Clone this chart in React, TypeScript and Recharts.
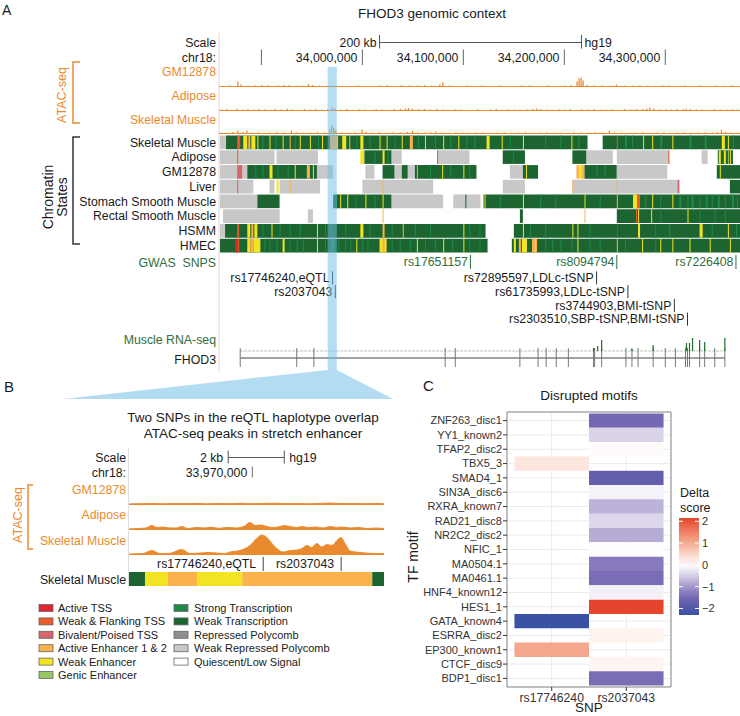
import React from "react";
import {
  ComposedChart,
  Bar,
  Area,
  Scatter,
  XAxis,
  YAxis,
  ReferenceArea,
  ReferenceLine,
  CartesianGrid,
} from "recharts";

const FONT = "'Liberation Sans', Arial, Helvetica, sans-serif";
const ORANGE = "#ea8a2e";
const GREEN_TXT = "#2f6e3a";
const INK = "#1a1a1a";

// chromHMM 15-state palette
const stateColors = {
  TssA: "#e0252c",
  TssFlnk: "#ea5a2d",
  TssBiv: "#d8646c",
  Enh: "#fbb24c",
  EnhWk: "#f2e423",
  EnhG: "#98c665",
  Tx: "#1f8a48",
  TxWk: "#1c6430",
  ReprPC: "#8e8e8e",
  ReprPCWk: "#c8c8c8",
  Quies: "#ffffff",
};
const stateNames = {
  TssA: "Active TSS",
  TssFlnk: "Weak & Flanking TSS",
  TssBiv: "Bivalent/Poised TSS",
  Enh: "Active Enhancer 1 & 2",
  EnhWk: "Weak Enhancer",
  EnhG: "Genic Enhancer",
  Tx: "Strong Transcription",
  TxWk: "Weak Transcription",
  ReprPC: "Repressed Polycomb",
  ReprPCWk: "Weak Repressed Polycomb",
  Quies: "Quiescent/Low Signal",
};
const legendCol1 = ["TssA", "TssFlnk", "TssBiv", "Enh", "EnhWk", "EnhG"];
const legendCol2 = ["Tx", "TxWk", "ReprPC", "ReprPCWk", "Quies"];

// ---------- panel A : chr18 window, kb ----------
const windowA = [33858, 34374];
const windowB = [33965.6, 33974.7];

const chrTicksA = [
  { pos: 33900, y: 1.5, label: "" },
  { pos: 34000, y: 1.5, label: "34,000,000" },
  { pos: 34100, y: 1.5, label: "34,100,000" },
  { pos: 34200, y: 1.5, label: "34,200,000" },
  { pos: 34300, y: 1.5, label: "34,300,000" },
];
const scaleBarA = [
  { pos: 34017, y: 0.5, label: "200 kb", side: "left" },
  { pos: 34217, y: 0.5, label: "hg19", side: "right" },
];

// ATAC-seq signal, [kb, height]
const atacGmA = [
  [33863, 0.6], [33869, 1], [33877, 5], [33880, 2], [33887, 0.8], [33894, 1], [33901, 1.5], [33907, 1.2],
  [33910, 0.8], [33917, 1], [33923, 1.6], [33928, 1.2], [33935, 0.8], [33941, 1], [33947, 2.5], [33951, 1.5],
  [33958, 1], [33964, 0.8], [33971, 1], [33980, 0.8], [33988, 0.6], [33996, 1], [34009, 0.8], [34017, 1],
  [34025, 1.2], [34032, 0.8], [34039, 1.2], [34047, 1], [34055, 1], [34062, 1.3], [34069, 1], [34077, 2],
  [34080, 4], [34087, 1], [34095, 0.8], [34104, 1], [34111, 0.6], [34119, 1], [34126, 0.8], [34136, 1],
  [34144, 0.8], [34151, 0.6], [34158, 1], [34166, 1], [34176, 0.8], [34184, 1], [34192, 0.6], [34201, 1],
  [34207, 1.2], [34213, 5], [34215, 8], [34217, 9], [34219, 6], [34223, 1.5], [34230, 1], [34238, 1],
  [34247, 0.8], [34252, 2], [34260, 1], [34268, 0.8], [34275, 1], [34283, 1], [34290, 0.8], [34298, 1],
  [34304, 1], [34312, 0.8], [34320, 1], [34327, 0.8], [34334, 1], [34342, 0.8], [34350, 1], [34358, 0.8],
  [34366, 1], [34372, 0.8],
];
const atacAdiposeA = [
  [33861, 1], [33866, 1.5], [33871, 0.8], [33876, 1.8], [33882, 1], [33887, 1.4], [33893, 0.8], [33898, 1.6],
  [33904, 1.2], [33909, 0.8], [33914, 1.5], [33920, 1], [33926, 1.8], [33931, 1], [33937, 0.8], [33943, 1.4],
  [33949, 1], [33954, 1.6], [33960, 1], [33966, 1.2], [33970, 3], [33973, 2], [33979, 1], [33985, 1.5],
  [33991, 0.8], [33997, 1.2], [34003, 1], [34008, 0.6], [34014, 1.4], [34020, 1], [34026, 0.8], [34032, 1.4],
  [34038, 1.6], [34043, 2], [34046, 2.5], [34050, 1.8], [34056, 1.2], [34062, 1.5], [34068, 1], [34074, 1.4],
  [34080, 1], [34086, 0.8], [34092, 1.2], [34098, 1], [34104, 0.6], [34109, 0.8], [34115, 1.2], [34121, 0.6],
  [34127, 1], [34133, 1.4], [34139, 0.8], [34145, 1.2], [34151, 1], [34157, 0.8], [34163, 1.2], [34169, 1.5],
  [34173, 2], [34177, 1.5], [34183, 1], [34189, 0.8], [34195, 1.2], [34201, 1], [34206, 1.4], [34212, 0.8],
  [34218, 1.2], [34224, 1], [34230, 1.5], [34236, 0.8], [34242, 1], [34248, 1.2], [34254, 0.8], [34260, 1.4],
  [34266, 1], [34272, 1.2], [34278, 1.5], [34282, 2], [34285, 3], [34289, 2], [34295, 1], [34301, 1.4],
  [34306, 1], [34312, 1.2], [34318, 1.5], [34321, 2], [34325, 1.4], [34331, 1], [34337, 1.2], [34343, 0.8],
  [34349, 1.4], [34355, 1], [34361, 0.8], [34367, 1.2], [34372, 1],
];
const atacMuscleA = [
  [33861, 1], [33867, 0.8], [33872, 1.5], [33877, 3], [33882, 1.5], [33886, 3], [33891, 1], [33897, 1.2],
  [33904, 0.8], [33909, 1], [33916, 1.4], [33923, 1], [33930, 3], [33935, 1.2], [33942, 0.8], [33949, 1],
  [33956, 1.4], [33963, 1], [33968, 4], [33970, 8], [33972, 6], [33974, 3], [33980, 1], [33987, 0.8],
  [33993, 1.2], [34000, 4], [34004, 1.5], [34010, 1], [34017, 1.4], [34024, 0.8], [34031, 1.2], [34038, 1],
  [34045, 1.5], [34050, 3], [34055, 1.2], [34062, 1], [34068, 1.2], [34073, 2], [34079, 1], [34086, 0.8],
  [34093, 1.2], [34100, 1], [34106, 0.8], [34113, 1.2], [34120, 1], [34127, 0.8], [34134, 1], [34141, 1.2],
  [34148, 0.8], [34155, 1], [34162, 1.2], [34169, 0.8], [34176, 1], [34183, 1.2], [34190, 0.8], [34197, 1],
  [34204, 0.8], [34210, 1.2], [34217, 1], [34224, 0.8], [34231, 1.2], [34238, 1], [34245, 3], [34250, 1.2],
  [34257, 1], [34264, 0.8], [34271, 1], [34278, 1.2], [34285, 0.8], [34292, 1], [34299, 1.2], [34305, 0.8],
  [34312, 1], [34319, 1.2], [34326, 0.8], [34333, 1], [34340, 1.2], [34347, 1], [34352, 1.5], [34356, 4],
  [34360, 1.5], [34365, 1], [34371, 0.8],
];

// chromatin state segments, [start kb, end kb, state]
const skeletalMuscleStates = [
  [33859, 33865, "ReprPCWk"], [33865, 34223, "TxWk"], [34238, 34374, "TxWk"],
  [33876, 33879, "TssFlnk"], [33882, 33886, "EnhWk"], [33887, 33889, "Enh"], [33890, 33894, "EnhWk"],
  [33896, 33897, "EnhWk"], [33901, 33902, "Tx"], [33908, 33909, "EnhWk"], [33914, 33915, "Tx"],
  [33921, 33922, "EnhWk"], [33928, 33929, "Enh"], [33933, 33934, "Tx"], [33938, 33939, "EnhWk"],
  [33948, 33949, "EnhWk"], [33956, 33957, "Tx"], [33960, 33961, "EnhWk"], [33968, 33976, "Enh"],
  [33980, 33984, "EnhWk"], [33987, 33988, "Enh"], [33994, 33995, "Tx"], [33998, 34001, "EnhWk"],
  [34007, 34008, "Tx"], [34017, 34018, "EnhWk"], [34024, 34025, "EnhWk"], [34032, 34033, "Tx"],
  [34039, 34040, "EnhWk"], [34047, 34050, "Enh"], [34055, 34056, "Tx"], [34062, 34063, "EnhWk"],
  [34072, 34073, "Tx"], [34080, 34081, "EnhWk"], [34087, 34088, "Tx"], [34095, 34096, "EnhWk"],
  [34103, 34104, "Tx"], [34111, 34112, "Tx"], [34123, 34126, "EnhWk"], [34138, 34139, "EnhWk"],
  [34146, 34147, "Tx"], [34159, 34160, "EnhWk"], [34181, 34182, "Tx"], [34196, 34197, "Tx"],
  [34207, 34208, "EnhWk"], [34214, 34215, "Tx"], [34252, 34253, "TssFlnk"], [34260, 34262, "Tx"],
  [34267, 34268, "Tx"], [34278, 34279, "EnhWk"], [34287, 34288, "EnhWk"], [34295, 34297, "Tx"],
  [34307, 34308, "EnhWk"], [34324, 34326, "Tx"], [34339, 34341, "Tx"], [34356, 34359, "EnhWk"],
  [34362, 34363, "EnhWk"], [34367, 34368, "Tx"],
];
const adiposeStates = [
  [33859, 33913, "ReprPCWk"], [33915, 33956, "ReprPCWk"], [33876, 33877, "TssFlnk"],
  [33998, 34002, "EnhWk"], [34002, 34029, "TxWk"], [34012, 34013, "Tx"], [34020, 34022, "EnhWk"],
  [34025, 34026, "Tx"], [34029, 34039, "ReprPCWk"], [34074, 34106, "ReprPCWk"], [34074, 34075, "TssFlnk"],
  [34139, 34161, "TxWk"], [34149, 34150, "Tx"], [34208, 34222, "TxWk"], [34222, 34248, "ReprPCWk"],
  [34252, 34304, "ReprPCWk"], [34303, 34304, "TssFlnk"], [34336, 34342, "ReprPCWk"], [34352, 34367, "TxWk"],
  [34353, 34355, "EnhWk"], [34358, 34360, "EnhWk"], [34362, 34363, "EnhG"], [34364, 34365, "EnhWk"],
];
const gm12878States = [
  [33859, 33886, "ReprPCWk"], [33876, 33881, "TssBiv"], [33886, 33955, "TxWk"], [33894, 33895, "Tx"],
  [33901, 33902, "Tx"], [33908, 33911, "EnhWk"], [33916, 33917, "Tx"], [33926, 33927, "Tx"],
  [33933, 33934, "EnhWk"], [33945, 33948, "Enh"], [33951, 33952, "EnhWk"], [33955, 33971, "ReprPCWk"],
  [34003, 34012, "ReprPCWk"], [34020, 34032, "TxWk"], [34032, 34039, "ReprPCWk"], [34039, 34045, "TxWk"],
  [34045, 34052, "ReprPCWk"], [34052, 34113, "TxWk"], [34054, 34055, "Enh"], [34067, 34068, "Tx"],
  [34079, 34080, "EnhWk"], [34087, 34088, "Tx"], [34100, 34101, "EnhWk"], [34106, 34107, "Tx"],
  [34146, 34159, "ReprPCWk"], [34159, 34174, "TxWk"], [34162, 34163, "EnhWk"], [34212, 34215, "Enh"],
  [34215, 34217, "EnhWk"], [34217, 34220, "Enh"], [34220, 34252, "TxWk"], [34232, 34233, "Tx"],
  [34240, 34241, "Tx"], [34252, 34302, "ReprPCWk"], [34351, 34374, "TxWk"], [34354, 34355, "EnhWk"],
];
const liverStates = [
  [33859, 33892, "ReprPCWk"], [33876, 33877, "TssBiv"], [33908, 33913, "ReprPCWk"], [33915, 33917, "EnhWk"],
  [33918, 33958, "ReprPCWk"], [33928, 33929, "Enh"], [34000, 34070, "ReprPCWk"], [34020, 34021, "Enh"],
  [34139, 34161, "ReprPCWk"], [34208, 34312, "ReprPCWk"], [34208, 34209, "Enh"], [34252, 34253, "Enh"],
  [34312, 34314, "TssBiv"], [34364, 34374, "TxWk"],
];
const stomachSmoothMuscleStates = [
  [33859, 33896, "ReprPCWk"], [33896, 33918, "TxWk"], [33971, 34029, "TxWk"], [33974, 33975, "Tx"],
  [33978, 33979, "EnhWk"], [33985, 33986, "EnhWk"], [33993, 33994, "Tx"], [34003, 34004, "EnhWk"],
  [34012, 34013, "Tx"], [34020, 34021, "EnhWk"], [34029, 34080, "ReprPCWk"], [34090, 34117, "ReprPCWk"],
  [34102, 34103, "TxWk"], [34120, 34374, "TxWk"], [34121, 34122, "EnhWk"], [34136, 34137, "Tx"],
  [34159, 34160, "EnhWk"], [34176, 34177, "Tx"], [34191, 34192, "Tx"], [34220, 34221, "EnhWk"],
  [34235, 34236, "Tx"], [34252, 34253, "Enh"], [34268, 34272, "EnhWk"], [34272, 34275, "TssFlnk"],
  [34280, 34281, "Tx"], [34287, 34288, "EnhWk"], [34295, 34296, "Tx"], [34307, 34308, "EnhWk"],
  [34314, 34316, "Tx"], [34322, 34323, "Tx"], [34326, 34328, "Tx"], [34334, 34335, "Tx"],
  [34340, 34342, "Tx"], [34346, 34347, "Tx"], [34352, 34354, "Tx"], [34359, 34360, "Tx"],
  [34366, 34368, "Tx"], [34371, 34372, "Tx"],
];
const rectalSmoothMuscleStates = [
  [33862, 33918, "ReprPCWk"], [33946, 33951, "ReprPCWk"], [34020, 34021, "Enh"], [34156, 34159, "TxWk"],
  [34220, 34221, "Enh"], [34252, 34374, "TxWk"], [34271, 34272, "TssFlnk"], [34273, 34274, "EnhWk"],
  [34286, 34287, "EnhWk"], [34295, 34296, "Tx"], [34322, 34323, "EnhWk"], [34334, 34335, "Tx"],
  [34349, 34350, "Tx"], [34359, 34360, "Tx"],
];
const hsmmStates = [
  [33859, 33864, "ReprPCWk"], [33864, 34122, "TxWk"], [33876, 33878, "TssFlnk"], [33886, 33889, "EnhWk"],
  [33890, 33892, "Enh"], [33893, 33896, "EnhWk"], [33901, 33902, "Tx"], [33910, 33911, "EnhWk"],
  [33918, 33919, "Tx"], [33928, 33929, "Tx"], [33938, 33939, "Tx"], [33955, 33956, "EnhWk"],
  [33963, 33964, "Tx"], [33969, 33970, "Tx"], [33983, 33984, "Tx"], [33998, 34001, "EnhWk"],
  [34007, 34008, "Tx"], [34020, 34022, "Enh"], [34029, 34030, "Tx"], [34040, 34041, "Enh"],
  [34052, 34053, "Tx"], [34067, 34068, "Tx"], [34100, 34101, "EnhWk"], [34106, 34107, "Tx"],
  [34116, 34117, "Tx"], [34150, 34374, "TxWk"], [34159, 34160, "EnhWk"], [34166, 34167, "Tx"],
  [34181, 34182, "Tx"], [34208, 34209, "EnhWk"], [34213, 34214, "EnhWk"], [34225, 34226, "Tx"],
  [34252, 34253, "Tx"], [34273, 34275, "EnhWk"], [34290, 34291, "Tx"], [34304, 34305, "Tx"],
  [34334, 34337, "EnhWk"], [34346, 34347, "Tx"], [34362, 34363, "EnhWk"], [34370, 34371, "Tx"],
];
const hmecStates = [
  [33859, 34124, "TxWk"], [33874, 33877, "TssA"], [33877, 33878, "TssFlnk"], [33886, 33889, "EnhWk"],
  [33889, 33892, "Enh"], [33892, 33899, "EnhWk"], [33903, 33904, "Tx"], [33908, 33909, "Tx"],
  [33915, 33916, "Tx"], [33921, 33923, "EnhWk"], [33928, 33929, "Tx"], [33935, 33936, "Tx"],
  [33941, 33942, "Tx"], [33955, 33956, "EnhWk"], [33963, 33964, "Tx"], [33969, 33972, "Tx"],
  [33976, 33977, "Tx"], [33983, 33984, "Tx"], [33988, 33989, "Tx"], [33994, 33995, "EnhWk"],
  [34000, 34001, "Tx"], [34005, 34006, "Tx"], [34017, 34024, "EnhWk"], [34020, 34022, "Enh"],
  [34029, 34030, "Tx"], [34037, 34038, "Tx"], [34047, 34048, "Tx"], [34054, 34055, "EnhWk"],
  [34062, 34063, "Tx"], [34072, 34073, "Tx"], [34080, 34081, "EnhWk"], [34089, 34090, "Tx"],
  [34100, 34101, "EnhWk"], [34106, 34107, "Tx"], [34116, 34117, "Tx"], [34148, 34374, "TxWk"],
  [34150, 34152, "EnhWk"], [34155, 34157, "Enh"], [34158, 34163, "EnhWk"], [34168, 34173, "Enh"],
  [34171, 34172, "EnhWk"], [34181, 34182, "Tx"], [34188, 34189, "Tx"], [34196, 34197, "Tx"],
  [34207, 34208, "Tx"], [34213, 34214, "EnhWk"], [34225, 34226, "Tx"], [34235, 34236, "Tx"],
  [34252, 34253, "Enh"], [34260, 34261, "Tx"], [34277, 34278, "EnhWk"], [34290, 34291, "Tx"],
  [34295, 34296, "EnhWk"], [34307, 34308, "EnhWk"], [34324, 34325, "EnhWk"], [34344, 34345, "EnhWk"],
  [34364, 34365, "EnhWk"],
];
const chromatinRowNames = [
  "Skeletal Muscle", "Adipose", "GM12878", "Liver",
  "Stomach Smooth Muscle", "Rectal Smooth Muscle", "HSMM", "HMEC",
];
const chromatinRows = [
  skeletalMuscleStates, adiposeStates, gm12878States, liverStates,
  stomachSmoothMuscleStates, rectalSmoothMuscleStates, hsmmStates, hmecStates,
];

const gwasSnps = [
  { pos: 34107, y: 0.5, label: "rs17651157" },
  { pos: 34252, y: 0.5, label: "rs8094794" },
  { pos: 34370, y: 0.5, label: "rs7226408" },
];
const haplotypeSnps = [
  { pos: 33970.4, y: 0.5, label: "rs17746240,eQTL" },
  { pos: 34232, y: 0.5, label: "rs72895597,LDLc-tSNP" },
  { pos: 33973.2, y: 1.5, label: "rs2037043" },
  { pos: 34263, y: 1.5, label: "rs61735993,LDLc-tSNP" },
  { pos: 34309, y: 2.5, label: "rs3744903,BMI-tSNP" },
  { pos: 34322, y: 3.5, label: "rs2303510,SBP-tSNP,BMI-tSNP" },
];

const fhod3Span = [33879, 34359];
const fhod3Exons = [
  33879, 33935, 33952, 34082, 34092, 34156, 34174, 34182, 34192, 34204, 34229, 34230, 34237,
  34261, 34267, 34273, 34288, 34300, 34310, 34320, 34322, 34324, 34334, 34339, 34349, 34359,
];
const muscleRnaSeq = [
  [34229, 3], [34233, 5], [34237, 11], [34267, 2], [34288, 6], [34321, 8], [34324, 8],
  [34327, 13], [34334, 11], [34339, 9], [34359, 13],
];

// ---------- panel B : zoom on the two SNPs ----------
const chrTicksB = [{ pos: 33970, y: 1.5, label: "33,970,000" }];
const scaleBarB = [
  { pos: 33969.14, y: 0.5, label: "2 kb", side: "left" },
  { pos: 33971.14, y: 0.5, label: "hg19", side: "right" },
];
const atacGmB = [
  [33965.6, 0.6], [33966.0, 0.8], [33966.4, 1], [33966.8, 0.7], [33967.2, 1], [33967.6, 0.8],
  [33968.0, 1.1], [33968.4, 0.7], [33968.8, 1], [33969.2, 0.8], [33969.6, 1.2], [33970.0, 0.8],
  [33970.4, 1], [33970.8, 1.3], [33971.2, 0.8], [33971.6, 1], [33972.0, 0.7], [33972.4, 1.1],
  [33972.8, 1.4], [33973.2, 0.9], [33973.6, 1], [33974.0, 0.8], [33974.4, 1], [33974.7, 0.7],
];
const atacAdiposeB = [
  [33965.6, 0.6], [33965.9, 1], [33966.2, 1.5], [33966.41, 4], [33966.6, 2], [33966.8, 2.5],
  [33967.06, 1.5], [33967.3, 1.5], [33967.48, 3], [33967.7, 1], [33968.0, 2], [33968.3, 1.5],
  [33968.5, 2.2], [33968.8, 1.2], [33969.1, 2], [33969.4, 1.5], [33969.7, 3], [33969.92, 7],
  [33970.1, 4], [33970.3, 4.5], [33970.52, 3], [33970.75, 2], [33971.0, 3], [33971.11, 4],
  [33971.35, 3], [33971.6, 2], [33971.77, 3], [33972.0, 2], [33972.3, 2.5], [33972.5, 1.5],
  [33972.8, 3], [33973.0, 2], [33973.2, 2.5], [33973.5, 1.5], [33973.8, 2], [33974.1, 1],
  [33974.4, 1.5], [33974.7, 1],
];
const atacMuscleB = [
  [33965.6, 0.5], [33965.9, 0.8], [33966.1, 1], [33966.41, 4], [33966.71, 1], [33967.06, 1.2],
  [33967.48, 5], [33967.78, 1], [33968.14, 1.5], [33968.45, 2], [33968.73, 1.5], [33969.0, 1],
  [33969.21, 2.5], [33969.56, 4], [33969.92, 9], [33970.16, 16], [33970.34, 19.5], [33970.52, 17],
  [33970.7, 11], [33970.87, 6], [33971.11, 2.5], [33971.35, 4], [33971.59, 4.5], [33971.77, 6],
  [33971.95, 9], [33972.12, 7], [33972.3, 11], [33972.48, 7.5], [33972.66, 10], [33972.84, 9],
  [33973.02, 14], [33973.16, 17], [33973.31, 11], [33973.49, 3.5], [33973.85, 2], [33974.21, 1.2],
  [33974.56, 1], [33974.7, 0.8],
];
const skeletalMuscleStatesB = [
  [33965.6, 33966.17, "TxWk"], [33966.17, 33966.99, "EnhWk"], [33966.99, 33968.03, "Enh"],
  [33968.03, 33969.64, "EnhWk"], [33969.64, 33974.28, "Enh"], [33974.28, 33974.7, "TxWk"],
];
const snpsB = [
  { pos: 33970.39, y: 0.5, label: "rs17746240,eQTL" },
  { pos: 33973.17, y: 0.5, label: "rs2037043" },
];

// ---------- panel C : disrupted motifs ----------
const snpNames = ["rs17746240", "rs2037043"];
const motifs = [
  "ZNF263_disc1", "YY1_known2", "TFAP2_disc2", "TBX5_3", "SMAD4_1", "SIN3A_disc6", "RXRA_known7",
  "RAD21_disc8", "NR2C2_disc2", "NFIC_1", "MA0504.1", "MA0461.1", "HNF4_known12", "HES1_1",
  "GATA_known4", "ESRRA_disc2", "EP300_known1", "CTCF_disc9", "BDP1_disc1",
];
const deltaRs17746240 = [
  null, null, null, 0.3, null, null, null, null, null, null, null, null, null, null, -2.3, null, 1.05, null, null,
];
const deltaRs2037043 = [
  -1.5, -0.45, 0.05, null, -1.75, -0.12, -0.75, -0.4, -0.8, 0.02, -1.3, -1.45, -0.15, 2.15, null, 0.15, null, 0.12, -1.45,
];
const deltaLegendTicks = [2, 1, 0, -1, -2];

const gradientStops = [
  [-2.3, [58, 82, 163]], [-2, [79, 85, 168]], [-1.5, [118, 103, 179]], [-1, [163, 150, 204]],
  [-0.5, [214, 205, 230]], [0, [255, 255, 255]], [0.5, [252, 214, 200]], [1, [246, 171, 146]],
  [1.5, [240, 129, 101]], [2.15, [230, 69, 45]],
];
function deltaColor(v) {
  if (v <= gradientStops[0][0]) return `rgb(${gradientStops[0][1].join(",")})`;
  for (let i = 1; i < gradientStops.length; i++) {
    const [v1, c1] = gradientStops[i];
    const [v0, c0] = gradientStops[i - 1];
    if (v <= v1) {
      const t = (v - v0) / (v1 - v0);
      const c = c0.map((a, k) => Math.round(a + (c1[k] - a) * t));
      return `rgb(${c.join(",")})`;
    }
  }
  return `rgb(${gradientStops[gradientStops.length - 1][1].join(",")})`;
}

const heatCells = motifs
  .flatMap((m, i) => [
    { col: 1, row: i + 1, motif: m, value: deltaRs17746240[i] },
    { col: 2, row: i + 1, motif: m, value: deltaRs2037043[i] },
  ])
  .filter((c) => c.value !== null);
const deltaValues = heatCells.map((c) => c.value);
const deltaMin = Math.min(...deltaValues);
const deltaMax = Math.max(...deltaValues);

const toPoints = (arr) => arr.map(([pos, h]) => ({ pos, h, y: h }));
const Blank = () => <g />;

// every track gets an invisible scatter on its domain corners so both axes resolve
function Track({ left, top, width, height, xDomain, yDomain, reversed = false, data = undefined, children }) {
  const corners = [
    { pos: xDomain[0], y: yDomain[0] },
    { pos: xDomain[1], y: yDomain[1] },
  ];
  return (
    <div style={{ position: "absolute", left, top, width, height }}>
      <ComposedChart width={width} height={height} data={data} margin={{ top: 0, right: 0, bottom: 0, left: 0 }}>
        <XAxis type="number" dataKey="pos" domain={xDomain} hide />
        <YAxis type="number" dataKey="y" domain={yDomain} reversed={reversed} hide />
        <Scatter data={corners} shape={Blank} isAnimationActive={false} />
        {children}
      </ComposedChart>
    </div>
  );
}

// vertical tick with a label beside it
const markShape = ({ line, text, gap, up, down, size = 12.3 }) => (props) => {
  const { cx, cy, payload } = props;
  const right = payload.side === "right";
  return (
    <g>
      <line x1={cx} x2={cx} y1={cy - up} y2={cy + down} stroke={line} strokeWidth={1} />
      {payload.label ? (
        <text
          x={right ? cx + gap : cx - gap}
          y={cy + 4.3}
          textAnchor={right ? "start" : "end"}
          fontSize={size}
          fill={text}
          fontFamily={FONT}
        >
          {payload.label}
        </text>
      ) : null}
    </g>
  );
};

function Ruler({ left, top, width, xDomain, ticks, bar, tickGap, barGap, barUp, barDown, tickUp, tickDown }) {
  return (
    <Track left={left} top={top} width={width} height={30} xDomain={xDomain} yDomain={[0, 2]} reversed>
      <ReferenceLine
        segment={[{ x: bar[0].pos, y: bar[0].y }, { x: bar[1].pos, y: bar[1].y }]}
        stroke="#555"
      />
      <Scatter data={bar} isAnimationActive={false} shape={markShape({ line: "#555", text: INK, gap: barGap, up: barUp, down: barDown })} />
      <Scatter data={ticks} isAnimationActive={false} shape={markShape({ line: "#666", text: INK, gap: tickGap, up: tickUp, down: tickDown })} />
    </Track>
  );
}

function Overlay() {
  const rowPitch = 14.75;
  const legendRow = (key, i, sx, tx) => (
    <g key={key}>
      <rect x={sx} y={604.5 + i * 13.4} width={14} height={7} fill={stateColors[key]} stroke="#666" strokeWidth={0.8} />
      <text x={tx} y={612 + i * 13.4} fontSize={11} fill={INK}>{stateNames[key]}</text>
    </g>
  );
  const barH = 615 - 518;
  const yOfDelta = (v) => 518 + ((deltaMax - v) / (deltaMax - deltaMin)) * barH;
  const gradSamples = [0, 0.1, 0.2, 0.3, 0.4, 0.5, 0.6, 0.7, 0.8, 0.9, 1];
  return (
    <svg width={740} height={716} style={{ position: "absolute", left: 0, top: 0 }} fontFamily={FONT}>
      <defs>
        <linearGradient id="deltaGrad" x1="0" y1="0" x2="0" y2="1">
          {gradSamples.map((t) => (
            <stop key={t} offset={t} stopColor={deltaColor(deltaMax - t * (deltaMax - deltaMin))} />
          ))}
        </linearGradient>
      </defs>

      {/* fan from the highlight to panel B */}
      <polygon points="327.6,370 336.8,370 393,399 63,399" fill="#b3dcf2" />

      {/* ---- panel A ---- */}
      <text x={2} y={15} fontSize={14} fill={INK}>A</text>
      <text x={432} y={18} fontSize={13.5} fill={INK} textAnchor="middle">FHOD3 genomic context</text>
      <line x1={219} x2={219} y1={33} y2={372} stroke="#e6d2d2" strokeWidth={1} />
      <text x={216} y={46.5} fontSize={12.3} fill={INK} textAnchor="end">Scale</text>
      <text x={216} y={61.5} fontSize={12.3} fill={INK} textAnchor="end">chr18:</text>

      <path d="M80,62 H73 V123 H80" fill="none" stroke={ORANGE} strokeWidth={1.5} />
      <text x={62} y={95} fontSize={12.5} fill={ORANGE} textAnchor="middle" dominantBaseline="central" transform="rotate(-90 62 95)">ATAC-seq</text>
      <text x={216} y={75.5} fontSize={12.3} fill={ORANGE} textAnchor="end">GM12878</text>
      <text x={216} y={100} fontSize={12.3} fill={ORANGE} textAnchor="end">Adipose</text>
      <text x={216} y={123.5} fontSize={12.3} fill={ORANGE} textAnchor="end">Skeletal Muscle</text>

      <path d="M80,137 H73 V244 H80" fill="none" stroke="#333" strokeWidth={1.5} />
      <text x={48} y={197} fontSize={14} fill={INK} textAnchor="middle" dominantBaseline="central" transform="rotate(-90 48 197)">Chromatin</text>
      <text x={62} y={197} fontSize={14} fill={INK} textAnchor="middle" dominantBaseline="central" transform="rotate(-90 62 197)">States</text>
      {chromatinRowNames.map((n, i) => (
        <text key={n} x={216} y={135 + (i + 0.5) * rowPitch + 4.3} fontSize={12.3} fill={INK} textAnchor="end">{n}</text>
      ))}
      <text x={216} y={266.5} fontSize={12.3} fill={GREEN_TXT} textAnchor="end" style={{ whiteSpace: "pre" }}>GWAS  SNPS</text>
      <text x={216} y={344} fontSize={12.3} fill={GREEN_TXT} textAnchor="end">Muscle RNA-seq</text>
      <text x={216} y={363.5} fontSize={12.3} fill={INK} textAnchor="end">FHOD3</text>

      {/* ---- panel B ---- */}
      <text x={4} y={392} fontSize={15} fill={INK}>B</text>
      <text x={253} y={422} fontSize={13.5} fill={INK} textAnchor="middle">Two SNPs in the reQTL haplotype overlap</text>
      <text x={253} y={438} fontSize={13.5} fill={INK} textAnchor="middle">ATAC-seq peaks in stretch enhancer</text>
      <line x1={128.5} x2={128.5} y1={448} y2={588} stroke="#dedede" strokeWidth={1} />
      <text x={126} y={461.5} fontSize={12.3} fill={INK} textAnchor="end">Scale</text>
      <text x={126} y={476.5} fontSize={12.3} fill={INK} textAnchor="end">chr18:</text>
      <path d="M33,485 H28 V549 H33" fill="none" stroke={ORANGE} strokeWidth={1.5} />
      <text x={17.5} y={515} fontSize={12.5} fill={ORANGE} textAnchor="middle" dominantBaseline="central" transform="rotate(-90 17.5 515)">ATAC-seq</text>
      <text x={126} y={493.5} fontSize={12.3} fill={ORANGE} textAnchor="end">GM12878</text>
      <text x={126} y={519} fontSize={12.3} fill={ORANGE} textAnchor="end">Adipose</text>
      <text x={126} y={544.5} fontSize={12.3} fill={ORANGE} textAnchor="end">Skeletal Muscle</text>
      <text x={126} y={583.5} fontSize={12.3} fill={INK} textAnchor="end">Skeletal Muscle</text>
      {legendCol1.map((k, i) => legendRow(k, i, 39, 58))}
      {legendCol2.map((k, i) => legendRow(k, i, 174, 194))}

      {/* ---- panel C ---- */}
      <text x={423} y={391} fontSize={15} fill={INK}>C</text>
      <text x={589} y={400} fontSize={13.5} fill={INK} textAnchor="middle">Disrupted motifs</text>
      <text x={413} y={557} fontSize={14} fill={INK} textAnchor="middle" dominantBaseline="central" transform="rotate(-90 413 557)">TF motif</text>
      <text x={589} y={712} fontSize={13.5} fill={INK} textAnchor="middle">SNP</text>
      <text x={680} y={497} fontSize={12.5} fill={INK}>Delta</text>
      <text x={680} y={512} fontSize={12.5} fill={INK}>score</text>
      <rect x={679} y={518} width={20} height={barH} fill="url(#deltaGrad)" />
      {deltaLegendTicks.map((t) => (
        <g key={t}>
          <line x1={679} x2={683} y1={yOfDelta(t)} y2={yOfDelta(t)} stroke="#fff" strokeWidth={1} />
          <line x1={695} x2={699} y1={yOfDelta(t)} y2={yOfDelta(t)} stroke="#fff" strokeWidth={1} />
          <text x={702} y={yOfDelta(t) + 4} fontSize={11} fill="#333">{t < 0 ? `\u2212${-t}` : t}</text>
        </g>
      ))}
    </svg>
  );
}

function Heatmap() {
  return (
    <div style={{ position: "absolute", left: 420, top: 400 }}>
      <ComposedChart width={260} height={310} margin={{ top: 12, right: 9, bottom: 5, left: 0 }}>
        <CartesianGrid stroke="#ebebeb" />
        <XAxis
          type="number"
          dataKey="col"
          domain={[0.4, 2.6]}
          ticks={[1, 2]}
          interval={0}
          tickFormatter={(v) => snpNames[v - 1]}
          tick={{ fontSize: 12.2, fill: "#333", fontFamily: FONT }}
          tickSize={4}
          tickLine={{ stroke: "#333" }}
          axisLine={false}
          height={18}
        />
        <YAxis
          type="number"
          dataKey="row"
          domain={[0.4, 19.6]}
          reversed
          ticks={motifs.map((_, i) => i + 1)}
          interval={0}
          tickFormatter={(v) => motifs[v - 1]}
          tick={{ fontSize: 11, fill: "#333", fontFamily: FONT }}
          tickSize={4}
          tickMargin={1}
          tickLine={{ stroke: "#333" }}
          axisLine={false}
          width={87}
        />
        {heatCells.map((c) => (
          <ReferenceArea
            key={`${c.col}-${c.row}`}
            x1={c.col - 0.5}
            x2={c.col + 0.5}
            y1={c.row - 0.5}
            y2={c.row + 0.5}
            fill={deltaColor(c.value)}
            fillOpacity={1}
            stroke="none"
          />
        ))}
        <ReferenceArea x1={0.4} x2={2.6} y1={0.4} y2={19.6} fill="none" fillOpacity={0} stroke="#888" strokeWidth={1} />
        <Scatter data={heatCells} shape={Blank} isAnimationActive={false} />
      </ComposedChart>
    </div>
  );
}

export default function App() {
  const atacA = [
    { name: "gm", values: atacGmA, top: 75.5 },
    { name: "adipose", values: atacAdiposeA, top: 99.5 },
    { name: "muscle", values: atacMuscleA, top: 122.5 },
  ];
  const atacB = [
    { name: "gm", values: atacGmB, top: 490, h: 15 },
    { name: "adipose", values: atacAdiposeB, top: 514, h: 16 },
    { name: "muscle", values: atacMuscleB, top: 532, h: 23 },
  ];
  return (
    <div
      style={{
        position: "absolute",
        left: 0,
        top: 0,
        width: 740,
        height: 716,
        background: "#fff",
        fontFamily: FONT,
        overflow: "hidden",
      }}
    >
      <Overlay />

      {/* A: ruler */}
      <Ruler
        left={219} top={35} width={521} xDomain={windowA} ticks={chrTicksA} bar={scaleBarA}
        tickGap={5} barGap={3} barUp={10} barDown={6} tickUp={8} tickDown={9}
      />

      {/* A: ATAC-seq */}
      {atacA.map((t) => (
        <Track key={t.name} left={219} top={t.top} width={521} height={11} xDomain={windowA} yDomain={[-0.5, 10.5]} data={toPoints(t.values)}>
          <ReferenceLine y={0} stroke={ORANGE} strokeWidth={1} />
          <Bar dataKey="h" fill={ORANGE} barSize={1.3} isAnimationActive={false} />
        </Track>
      ))}

      {/* A: chromatin states */}
      <Track left={219} top={135} width={521} height={118} xDomain={windowA} yDomain={[0, 8]} reversed>
        {chromatinRows.flatMap((segs, r) =>
          segs.map(([s, e, st], i) => (
            <ReferenceArea
              key={`${r}-${i}`}
              x1={s}
              x2={e}
              y1={r + 0.04}
              y2={r + 0.96}
              fill={stateColors[st]}
              fillOpacity={1}
              stroke="none"
            />
          ))
        )}
      </Track>

      {/* A: GWAS SNPs and haplotype SNPs */}
      <Track left={219} top={255} width={521} height={14} xDomain={windowA} yDomain={[0, 1]} reversed>
        <Scatter data={gwasSnps} isAnimationActive={false} shape={markShape({ line: GREEN_TXT, text: GREEN_TXT, gap: 2.5, up: 7, down: 7 })} />
      </Track>
      <Track left={219} top={271} width={521} height={55} xDomain={windowA} yDomain={[0, 4]} reversed>
        <Scatter data={haplotypeSnps} isAnimationActive={false} shape={markShape({ line: "#333", text: INK, gap: 3, up: 6.5, down: 6.5 })} />
      </Track>

      {/* A: RNA-seq and FHOD3 gene model */}
      <Track left={219} top={334} width={521} height={36} xDomain={windowA} yDomain={[-12, 24]}>
        <ReferenceLine segment={[{ x: fhod3Span[0], y: 7 }, { x: fhod3Span[1], y: 7 }]} stroke="#b4c8b4" strokeDasharray="3 1" />
        <ReferenceLine segment={[{ x: fhod3Span[0], y: 0 }, { x: fhod3Span[1], y: 0 }]} stroke="#444" />
        {fhod3Exons.map((p, i) => (
          <ReferenceLine key={`ex${i}`} segment={[{ x: p, y: -9 }, { x: p, y: 10 }]} stroke="#777" />
        ))}
        {muscleRnaSeq.map(([p, h], i) => (
          <ReferenceLine key={`rna${i}`} segment={[{ x: p, y: 7 }, { x: p, y: 7 + h }]} stroke="#1f6b2c" strokeWidth={1.2} />
        ))}
      </Track>

      {/* A: highlighted window */}
      <Track left={219} top={67} width={521} height={303} xDomain={windowA} yDomain={[0, 1]}>
        <ReferenceArea x1={windowB[0]} x2={windowB[1]} y1={0} y2={1} fill="#6cbde9" fillOpacity={0.5} stroke="none" />
      </Track>

      {/* B: ruler */}
      <Ruler
        left={129} top={450} width={255} xDomain={windowB} ticks={chrTicksB} bar={scaleBarB}
        tickGap={5} barGap={5} barUp={7} barDown={6} tickUp={6} tickDown={5}
      />

      {/* B: ATAC-seq */}
      {atacB.map((t) => (
        <Track key={t.name} left={129} top={t.top} width={255} height={t.h} xDomain={windowB} yDomain={[-0.5, t.h - 0.5]} data={toPoints(t.values)}>
          <Area
            type="monotone"
            dataKey="h"
            baseValue={0}
            stroke={ORANGE}
            strokeWidth={1}
            fill={ORANGE}
            fillOpacity={1}
            dot={false}
            activeDot={false}
            isAnimationActive={false}
          />
          <ReferenceLine y={0} stroke={ORANGE} strokeWidth={1} />
        </Track>
      ))}

      {/* B: SNPs */}
      <Track left={129} top={557} width={255} height={14} xDomain={windowB} yDomain={[0, 1]} reversed>
        <Scatter data={snpsB} isAnimationActive={false} shape={markShape({ line: "#444", text: INK, gap: 7, up: 7, down: 7 })} />
      </Track>

      {/* B: chromatin state */}
      <Track left={129} top={572} width={255} height={14} xDomain={windowB} yDomain={[0, 1]} reversed>
        {skeletalMuscleStatesB.map(([s, e, st], i) => (
          <ReferenceArea key={i} x1={s} x2={e} y1={0} y2={1} fill={stateColors[st]} fillOpacity={1} stroke="none" />
        ))}
      </Track>

      <Heatmap />
    </div>
  );
}
